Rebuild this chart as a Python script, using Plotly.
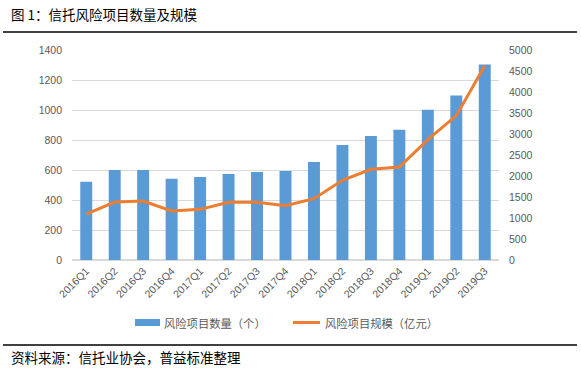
import plotly.graph_objects as go

quarters = ["2016Q1", "2016Q2", "2016Q3", "2016Q4", "2017Q1", "2017Q2", "2017Q3", "2017Q4",
            "2018Q1", "2018Q2", "2018Q3", "2018Q4", "2019Q1", "2019Q2", "2019Q3"]
project_count = [522, 600, 600, 542, 553, 573, 587, 593, 653, 767, 827, 868, 1002, 1096, 1304]
project_scale = [1095, 1381, 1405, 1167, 1206, 1373, 1373, 1294, 1460, 1897, 2159, 2215, 2865, 3437, 4627]

name_count = "风险项目数量（个）"
name_scale = "风险项目规模（亿元）"
title_text = "图 1：信托风险项目数量及规模"
source_text = "资料来源：信托业协会，普益标准整理"

blue = "#5B9BD5"
orange = "#ED7D31"
gray = "#595959"
grid = "#D9D9D9"
tick_font = dict(family="Liberation Sans, Arial, sans-serif", size=10.5, color=gray)
cjk = "Noto Sans CJK SC, sans-serif"

# plot area: x 72..499, y 50..260 (pixels)
L, R, T, B = 72, 499, 50, 260
W, H = 581, 371


def px(x):
    return (x - L) / (R - L)


def py(y):
    return (B - y) / (B - T)


fig = go.Figure()
fig.add_trace(go.Bar(x=quarters, y=project_count, name=name_count, marker_color=blue,
                     marker_line_width=0, yaxis="y", showlegend=False))
fig.add_trace(go.Scatter(x=quarters, y=project_scale, name=name_scale, mode="lines",
                         line=dict(color=orange, width=3), yaxis="y2", showlegend=False))

fig.update_layout(
    width=W, height=H,
    margin=dict(l=L, r=W - R, t=T, b=H - B, autoexpand=False),
    paper_bgcolor="white", plot_bgcolor="white",
    bargap=0.58,
    showlegend=False,
    xaxis=dict(type="category", tickangle=-45, tickfont=tick_font, showgrid=False,
               showline=False, ticks="", zeroline=False, automargin=False,
               ticklabelstandoff=2),
    yaxis=dict(range=[0, 1400], dtick=200, tickfont=tick_font, gridcolor=grid, gridwidth=1,
               showline=False, zeroline=True, zerolinecolor=grid, ticks="",
               ticklabelstandoff=9, automargin=False),
    yaxis2=dict(range=[0, 5000], dtick=500, tickfont=tick_font, overlaying="y", side="right",
                showgrid=False, showline=False, zeroline=False, ticks="",
                ticklabelstandoff=9, automargin=False),
    shapes=[
        dict(type="line", xref="paper", yref="paper", x0=px(3), x1=px(577),
             y0=py(32), y1=py(32), line=dict(color="black", width=1.5)),
        dict(type="line", xref="paper", yref="paper", x0=px(3), x1=px(577),
             y0=py(345), y1=py(345), line=dict(color="black", width=1.5)),
        # legend keys
        dict(type="rect", xref="paper", yref="paper", x0=px(135), x1=px(160),
             y0=py(326), y1=py(319), fillcolor=blue, line=dict(width=0)),
        dict(type="line", xref="paper", yref="paper", x0=px(293), x1=px(320),
             y0=py(322.5), y1=py(322.5), line=dict(color=orange, width=3)),
    ],
    annotations=[
        dict(text=title_text, xref="paper", yref="paper", x=px(9), y=py(14),
             xanchor="left", yanchor="middle", showarrow=False,
             font=dict(family=cjk, size=13.5, color="black")),
        dict(text=source_text, xref="paper", yref="paper", x=px(9), y=py(357),
             xanchor="left", yanchor="middle", showarrow=False,
             font=dict(family=cjk, size=13.5, color="black")),
        dict(text=name_count, xref="paper", yref="paper", x=px(162), y=py(322.5),
             xanchor="left", yanchor="middle", showarrow=False,
             font=dict(family=cjk, size=11.3, color=gray)),
        dict(text=name_scale, xref="paper", yref="paper", x=px(323), y=py(322.5),
             xanchor="left", yanchor="middle", showarrow=False,
             font=dict(family=cjk, size=11.3, color=gray)),
    ],
)

fig.write_html(
    "out.html",
    config={"displayModeBar": False},
    post_script="document.body.style.margin='0';document.body.style.overflow='hidden';",
)
